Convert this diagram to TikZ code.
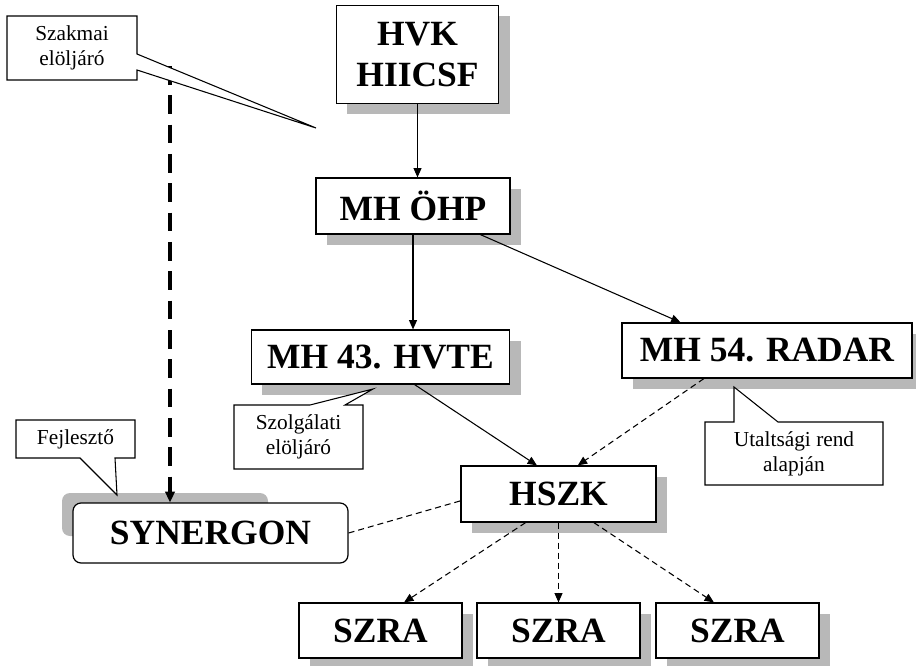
\documentclass[tikz,border=0pt]{standalone}
\usepackage{fontspec}
\setmainfont{Liberation Serif}
\usetikzlibrary{arrows.meta,shadows}

\tikzset{
  orgbox/.style={draw, fill=white, line width=0.9pt, align=center, inner sep=0pt,
    font=\bfseries\fontsize{26.6}{30.75}\selectfont},
  boxshadow/.style={drop shadow={shadow xshift=8pt, shadow yshift=-8pt,
    fill=black!28, opacity=1}},
  note/.style={draw, fill=white, line width=0.8pt},
  notetext/.style={align=center, inner sep=0pt, font=\fontsize{16}{18.75}\selectfont},
  link/.style={line width=0.8pt, -{Triangle[length=7pt,width=6pt]}},
  weak/.style={link, dash pattern=on 4.5pt off 3pt},
}

\begin{document}
\begin{tikzpicture}[x=0.75pt,y=-0.75pt]
  \useasboundingbox (0,0) rectangle (916,666);

  % units
  \node[orgbox, boxshadow, minimum width=122pt, minimum height=73pt] (hvk) at (417.5,54.5) {HVK\\HIICSF};
  \node[orgbox, boxshadow, minimum width=145.5pt, minimum height=42pt] (ohp) at (413,206) {MH ÖHP};
  \node[orgbox, boxshadow, minimum width=194pt, minimum height=40.5pt] (hvte) at (380.5,357) {MH 43. HVTE};
  \node[orgbox, boxshadow, minimum width=217.5pt, minimum height=41.25pt] (radar) at (767,350.5) {MH 54. RADAR};
  \node[orgbox, boxshadow, minimum width=146.25pt, minimum height=42pt] (hszk) at (558.5,494) {HSZK};
  \node[orgbox, boxshadow, minimum width=122.25pt, minimum height=41.25pt] (szraa) at (380.5,630.5) {SZRA};
  \node[orgbox, boxshadow, minimum width=122.25pt, minimum height=41.25pt] (szrab) at (558.5,630.5) {SZRA};
  \node[orgbox, boxshadow, minimum width=122.25pt, minimum height=41.25pt] (szrac) at (737.5,630.5) {SZRA};

  \fill[black!28, rounded corners=6pt] (62,493) rectangle (268,536);
  \node[orgbox, rounded corners=6pt, minimum width=206.25pt, minimum height=45pt] (syn) at (210.5,533) {SYNERGON};

  % lines
  \draw[link] (hvk.south) -- (hvk.south |- ohp.north);
  \draw[link] (ohp.south) -- (ohp.south |- hvte.north);
  \draw[link] (ohp.-23.6) -- (radar.162.1);
  \draw[link] (hvte.-39.7) -- (hszk.127.5);
  \draw[weak] (radar.204.6) -- (hszk.56.5);
  \draw[line width=0.8pt, dash pattern=on 4.5pt off 3pt] (syn.east) -- (hszk.184.7);
  \draw[weak] (hszk.221.6) -- (szraa.50.7);
  \draw[weak] (hszk.south) -- (szrab.north);
  \draw[weak] (hszk.-39.9) -- (szrac.130.5);

  \coordinate (szaktop) at (170,66);
  \draw[line width=3pt, dash pattern=on 14pt off 8pt,
    -{Triangle[length=8pt,width=7pt]}] (szaktop) -- (szaktop |- syn.north);

  % callouts
  \draw[note] (7,16) -- (137,16) -- (137,54) -- (316,128) -- (137,70) -- (137,80) -- (7,80) -- cycle;
  \node[notetext] (szakmai) at (72,48) {Szakmai\\elöljáró};

  \draw[note] (234,405) -- (310,405) -- (373,389) -- (345,405) -- (363,405) -- (363,469) -- (234,469) -- cycle;
  \node[notetext] (szolg) at (298.5,437) {Szolgálati\\elöljáró};

  \draw[note] (16,420) -- (135,420) -- (135,458) -- (115,458) -- (117,495) -- (80,458) -- (16,458) -- cycle;
  \node[notetext] (fejl) at (75.5,439) {Fejlesztő};

  \draw[note] (705,422) -- (734,422) -- (734,387) -- (778,422) -- (883,422) -- (883,485) -- (705,485) -- cycle;
  \node[notetext] (utalt) at (794,453.5) {Utaltsági rend\\alapján};
\end{tikzpicture}
\end{document}
